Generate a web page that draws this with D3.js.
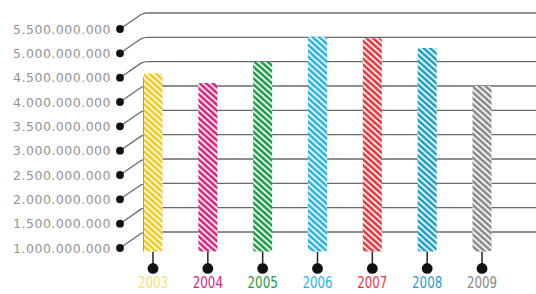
<!DOCTYPE html>
<html>
<head>
<meta charset="utf-8">
<script src="https://cdn.jsdelivr.net/npm/d3@7"></script>
<style>
  html, body { margin: 0; padding: 0; background: #ffffff; }
  svg { display: block; }
</style>
</head>
<body>
<div id="chart"></div>
<script>
// ---- data ----
const years = ["2003", "2004", "2005", "2006", "2007", "2008", "2009"];
const values = [4260000000, 4060000000, 4500000000, 5010000000, 4980000000, 4780000000, 4000000000];
const barColors = ["#f6c81e", "#d9267c", "#1f9b4a", "#2ab3e6", "#e5383e", "#1f9fc8", "#8a8a8a"];
const labelColors = ["#f4e07c", "#d9267c", "#1f9b4a", "#2ab3e6", "#e5383e", "#1f9fc8", "#8a8a8a"];
const tickValues = [1000000000, 1500000000, 2000000000, 2500000000, 3000000000, 3500000000, 4000000000, 4500000000, 5000000000, 5500000000];
const tickLabels = ["1.000.000.000", "1.500.000.000", "2.000.000.000", "2.500.000.000", "3.000.000.000", "3.500.000.000", "4.000.000.000", "4.500.000.000", "5.000.000.000", "5.500.000.000"];
const baseValue = 600000000;

// ---- layout ----
const W = 536, H = 294;
const svg = d3.select("#chart").append("svg").attr("width", W).attr("height", H);

const y = d3.scaleLinear().domain([1000000000, 5500000000]).range([232, 13]);
const x = d3.scalePoint().domain(years).range([153, 482]);
const barW = 19;
const perspDy = 16, dotX = 120, gridX0 = 144;

// patterns
const defs = svg.append("defs");
years.forEach((yr, i) => {
  const p = defs.append("pattern")
    .attr("id", "pat" + i)
    .attr("patternUnits", "userSpaceOnUse")
    .attr("width", 10).attr("height", 4.4)
    .attr("patternTransform", "rotate(42)");
  p.append("rect").attr("width", 10).attr("height", 4.4).attr("fill", barColors[i]);
  p.append("rect").attr("y", 0).attr("width", 10).attr("height", 1.9).attr("fill", "#ffffff").attr("opacity", 0.9);
});

// gridlines with perspective connectors
const grid = svg.append("g");
tickValues.forEach((v, i) => {
  const gy = y(v), dy = gy + perspDy;
  grid.append("path")
    .attr("d", `M${dotX},${dy} L${gridX0 - 3},${gy + 1.5} Q${gridX0},${gy} ${gridX0 + 4},${gy} L${W},${gy}`)
    .attr("fill", "none").attr("stroke", "#6a6a6a").attr("stroke-width", 1.3);
  grid.append("circle").attr("cx", dotX).attr("cy", dy).attr("r", 3.9).attr("fill", "#111");
  grid.append("text")
    .attr("x", dotX - 9).attr("y", dy)
    .attr("dy", "0.36em")
    .attr("text-anchor", "end")
    .attr("font-family", "DejaVu Sans, sans-serif")
    .attr("font-size", 12.5)
    .attr("letter-spacing", 0.5)
    .attr("fill", "#939393")
    .text(tickLabels[i]);
});

// bars
const bars = svg.append("g");
years.forEach((yr, i) => {
  const cx = x(yr);
  const top = y(values[i]), bot = y(baseValue);
  // stem + dot
  bars.append("line").attr("x1", cx).attr("x2", cx).attr("y1", bot).attr("y2", bot + perspDy)
    .attr("stroke", "#222").attr("stroke-width", 1.5);
  bars.append("circle").attr("cx", cx).attr("cy", bot + perspDy + 1).attr("r", 5.4).attr("fill", "#111");
  bars.append("rect")
    .attr("x", cx - barW / 2).attr("y", top)
    .attr("width", barW).attr("height", bot - top)
    .attr("rx", 2)
    .attr("fill", `url(#pat${i})`);
  bars.append("text")
    .attr("x", cx).attr("y", 288)
    .attr("text-anchor", "middle")
    .attr("font-family", "DejaVu Sans Condensed, Liberation Sans Narrow, sans-serif")
    .attr("font-size", 16.5)
    .attr("transform", `translate(${cx},0) scale(0.8,1) translate(${-cx},0)`)
    .attr("fill", labelColors[i])
    .text(yr);
});
// left edge shadow of first bar
svg.append("line")
  .attr("x1", x(years[0]) - barW / 2).attr("x2", x(years[0]) - barW / 2)
  .attr("y1", y(values[0]) + 4).attr("y2", y(baseValue))
  .attr("stroke", "#999").attr("stroke-width", 1);
</script>
</body>
</html>
